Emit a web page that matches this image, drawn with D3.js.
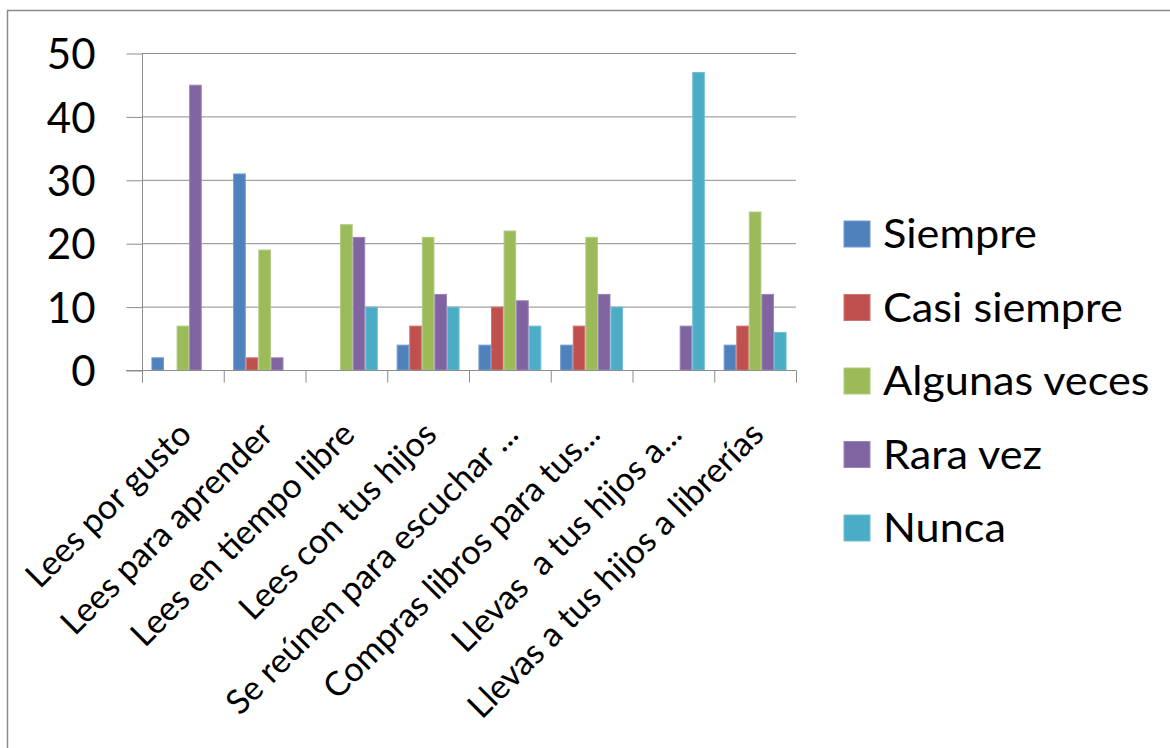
<!DOCTYPE html>
<html><head><meta charset="utf-8">
<script src="https://cdn.jsdelivr.net/npm/d3@7"></script>
<style>
html,body{margin:0;padding:0;background:#fff;}
svg{display:block;}
text{font-family:Lato,"Open Sans",sans-serif;fill:#000;}
</style></head>
<body>
<svg id="c" width="1170" height="748"></svg>
<script>
const categories = ["Lees por gusto","Lees para aprender","Lees en tiempo libre","Lees con tus hijos","Se reúnen para escuchar ...","Compras libros para tus...","Llevas  a tus hijos a...","Llevas a tus hijos a librerías"];
const seriesNames = ["Siempre","Casi siempre","Algunas veces","Rara vez","Nunca"];
const siempre      = [2, 31, 0, 4, 4, 4, 0, 4];
const casiSiempre  = [0, 2, 0, 7, 10, 7, 0, 7];
const algunasVeces = [7, 19, 23, 21, 22, 21, 0, 25];
const raraVez      = [45, 2, 21, 12, 11, 12, 7, 12];
const nunca        = [0, 0, 10, 10, 7, 10, 47, 6];
const yTicks = [0, 10, 20, 30, 40, 50];
const colors = ["#4F81BD","#C0504D","#9BBB59","#8064A2","#4BACC6"];
const strokes = ["#7199cb","#cd7472","#b0ca80","#9a85b6","#72bdd3"];

const seriesValues = [siempre, casiSiempre, algunasVeces, raraVez, nunca];
const svg = d3.select("#c");

// chart border (top & left visible)
svg.append("path").attr("d","M7.5,748 L7.5,10.5 L1170,10.5").attr("fill","none").attr("stroke","#8a8a8a").attr("stroke-width",1.5);

const pLeft = 142, pRight = 796, pTop = 53, pBottom = 370;
const x0 = d3.scaleBand().domain(categories).range([pLeft, pRight]).paddingInner(0).paddingOuter(0);
const x1 = d3.scaleBand().domain(seriesNames).range([0, x0.bandwidth()]).paddingInner(0).paddingOuter(0.75);
const y = d3.scaleLinear().domain([0, 50]).range([pBottom, pTop]);

// gridlines
svg.append("g").selectAll("line").data(yTicks.filter(d=>d>0)).join("line")
  .attr("x1", pLeft).attr("x2", pRight).attr("y1", d=>y(d)+0.5).attr("y2", d=>y(d)+0.5)
  .attr("stroke","#8c8c8c").attr("stroke-width",1);

// y axis
const yAxis = d3.axisLeft(y).tickValues(yTicks).tickSize(16).tickPadding(31).tickFormat(d3.format("d"));
const gy = svg.append("g").attr("transform",`translate(${pLeft+0.5},0.5)`).call(yAxis);
gy.select(".domain").attr("stroke","#8c8c8c").attr("d", `M0,${pTop} V${pBottom+12}`);
gy.selectAll(".tick line").attr("stroke","#8c8c8c");
gy.selectAll(".tick text").attr("font-size",42).attr("font-family","Lato, sans-serif").attr("fill","#000").attr("dy","0.36em");

// bars
const groups = svg.append("g").selectAll("g").data(categories).join("g")
  .attr("transform", d=>`translate(${x0(d)},0)`);
groups.selectAll("rect").data((c,i)=>seriesNames.map((s,j)=>({s, j, v: seriesValues[j][i]})).filter(d=>d.v>0)).join("rect")
  .attr("x", d=>x1(d.s)+0.5).attr("width", x1.bandwidth()-1)
  .attr("y", d=>y(d.v)+0.5).attr("height", d=>y(0)-y(d.v)-0.5)
  .attr("fill", d=>colors[d.j]).attr("stroke", d=>strokes[d.j]).attr("stroke-width",1);

// x axis
const xAxis = d3.axisBottom(x0).tickSize(0).tickFormat("");
const gx = svg.append("g").attr("transform",`translate(0,${pBottom+0.5})`).call(xAxis);
gx.select(".domain").attr("stroke","#8c8c8c").attr("d", `M${pLeft-16},0 H${pRight}`);
const bounds = categories.map(c=>x0(c)).concat([pRight]);
gx.selectAll(".btick").data(bounds).join("line").attr("class","btick")
  .attr("x1", d=>d+0.5).attr("x2", d=>d+0.5).attr("y1",0).attr("y2",12).attr("stroke","#8c8c8c");
// labels
svg.append("g").selectAll("text").data(categories).join("text")
  .attr("transform", d=>`translate(${x0(d)+x0.bandwidth()/2+2},${pBottom+58}) rotate(-45)`)
  .attr("text-anchor","end").attr("dy","0.35em").attr("font-size",34)
  .style("white-space","pre")
  .text(d=>d);

// legend
const lg = svg.append("g").selectAll("g").data(seriesNames).join("g")
  .attr("transform",(d,i)=>`translate(844,${234 + i*73.5})`);
lg.append("rect").attr("x",0).attr("y",-13).attr("width",26).attr("height",26)
  .attr("fill",(d,i)=>colors[i]).attr("stroke",(d,i)=>strokes[i]);
lg.append("text").attr("transform","translate(39,0) scale(1.08,1)").attr("dy","0.36em").attr("font-size",40).text(d=>d);
</script>
</body></html>
